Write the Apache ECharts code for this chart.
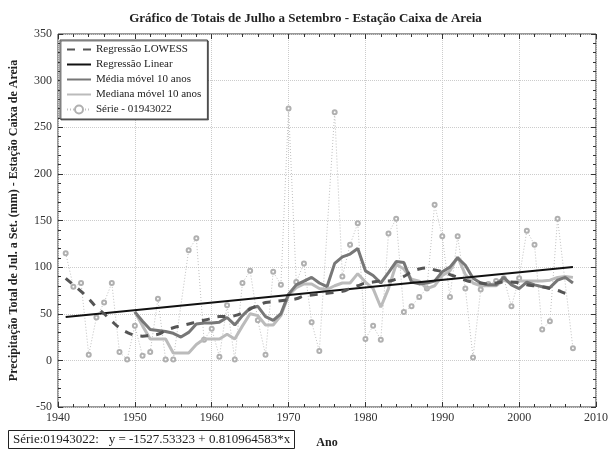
<!DOCTYPE html>
<html>
<head>
<meta charset="utf-8">
<script src="https://cdn.jsdelivr.net/npm/echarts@6/dist/echarts.min.js"></script>
<style>
  html, body { margin: 0; padding: 0; background: #fff; }
  #chart { width: 611px; height: 454px; }
</style>
</head>
<body>
<div id="chart"></div>
<script>
const years = [1941, 1942, 1943, 1944, 1945, 1946, 1947, 1948, 1949, 1950,
  1951, 1952, 1953, 1954, 1955, 1956, 1957, 1958, 1959, 1960,
  1961, 1962, 1963, 1964, 1965, 1966, 1967, 1968, 1969, 1970,
  1971, 1972, 1973, 1974, 1975, 1976, 1977, 1978, 1979, 1980,
  1981, 1982, 1983, 1984, 1985, 1986, 1987, 1988, 1989, 1990,
  1991, 1992, 1993, 1994, 1995, 1996, 1997, 1998, 1999, 2000,
  2001, 2002, 2003, 2004, 2005, 2006, 2007]

// Série - 01943022 (totais jul-set, mm)
const serie = [115, 79, 83, 6, 46, 62, 83, 9, 1, 37,
  5, 9, 66, 1, 1, null, 118, 131, 22, 34,
  4, 59, 1, 83, 96, 43, 6, 95, 81, 270,
  84, 104, 41, 10, null, 266, 90, 124, 147, 23,
  37, 22, 136, 152, 52, 58, 68, 77, 167, 133,
  68, 133, 77, 3, 76, 82, 85, 88, 58, 88,
  139, 124, 33, 42, 152, null, 13]

const lowess = [88, 81, 74, 66, 57, 50, 42, 35, 30, 27,
  26, 27, 28, 32, 35, 37, 39, 41, 43, 45,
  47, 47, 48, 51, 55, 59, 62, 63, 64, 65,
  66, 69, 70, 71, 72, 73, 74, 77, 80, 83,
  84, 85, 85, 87, 90, 95, 98, 99, 97, 95,
  92, 89, 86, 84, 83, 82, 83, 84, 84, 83,
  81, 80, 79, 77, 75, 72, 70]

const mediaMovel = [null, null, null, null, null, null, null, null, null, 52,
  42, 33, 32, 31, 29, 25, 30, 39, 40, 40,
  41, 46, 38, 48, 56, 58, 47, 43, 50, 71,
  81, 85, 89, 83, 79, 104, 111, 114, 120, 96,
  91, 83, 94, 106, 105, 84, 82, 83, 85, 95,
  100, 110, 102, 88, 83, 81, 81, 89, 81, 77,
  84, 81, 79, 78, 86, 89, 83]

const medianaMovel = [null, null, null, null, null, null, null, null, null, 52,
  37, 23, 23, 23, 8, 8, 8, 17, 23, 23,
  23, 28, 23, 37, 50, 48, 38, 38, 48, 70,
  78, 82, 82, 77, 76, 80, 83, 83, 93, 84,
  77, 57, 77, 103, 98, 87, 85, 77, 80, 91,
  96, 111, 92, 83, 80, 80, 80, 86, 83, 85,
  85, 85, 85, 86, 89, 90, 89]

// regressão linear: y = -1527.53323 + 0.810964583*x
const linearYears = [1941, 2007]
const linearVals = [46.6, 100.1]

const xTicks = [1940, 2010, 10]
const yTicks = [-50, 350, 50]

const pair = (xs, ys) => xs.map((x, i) => [x, ys[i]])

const chart = echarts.init(document.getElementById('chart'))
const serif = 'Liberation Serif'

const xBase = {
  type: 'value', min: xTicks[0], max: xTicks[1], interval: xTicks[2],
  axisLine: { show: false, onZero: false },
  axisTick: { inside: true, length: 5, lineStyle: { color: '#333' } },
  minorTick: { show: true, splitNumber: 5, length: 3, lineStyle: { color: '#333' } },
}
const yBase = {
  type: 'value', min: yTicks[0], max: yTicks[1], interval: yTicks[2],
  axisLine: { show: false, onZero: false },
  axisTick: { inside: true, length: 5, lineStyle: { color: '#333' } },
  minorTick: { show: true, splitNumber: 5, length: 3, lineStyle: { color: '#333' } },
}

const noSym = { opacity: 0 }

const option = {
  animation: false,
  backgroundColor: '#fff',
  title: [
    {
      text: 'Gráfico de Totais de Julho a Setembro - Estação Caixa de Areia',
      left: 'center', top: 7,
      textStyle: { fontFamily: serif, fontSize: 13, fontWeight: 'bold', color: '#222' }
    },
    {
      text: 'Série:01943022:   y = -1527.53323 + 0.810964583*x',
      left: 8, top: 430,
      borderColor: '#222', borderWidth: 1, padding: [3, 5],
      textStyle: { fontFamily: serif, fontSize: 13, fontWeight: 'normal', color: '#222' }
    }
  ],
  legend: {
    orient: 'vertical', left: 60, top: 40,
    backgroundColor: '#fff', borderColor: '#444', borderWidth: 1,
    shadowColor: 'rgba(0,0,0,0.5)', shadowOffsetX: 1, shadowOffsetY: 1,
    padding: [4, 6], itemGap: 4, itemWidth: 24, itemHeight: 10,
    textStyle: { fontFamily: serif, fontSize: 11, color: '#222' },
    data: [
      { name: 'Regressão LOWESS', itemStyle: noSym },
      { name: 'Regressão Linear', itemStyle: noSym },
      { name: 'Média móvel 10 anos', itemStyle: noSym },
      { name: 'Mediana móvel 10 anos', itemStyle: noSym },
      { name: 'Série - 01943022' }
    ]
  },
  grid: { left: 56, right: 11, top: 34, bottom: 45, show: true, borderColor: '#333', borderWidth: 1 },
  xAxis: [
    Object.assign({}, xBase, {
      name: 'Ano', nameLocation: 'middle', nameGap: 30,
      nameTextStyle: { fontFamily: serif, fontSize: 12, fontWeight: 'bold', color: '#222' },
      axisLabel: { fontFamily: serif, fontSize: 12, color: '#333', margin: 5, formatter: v => String(v) },
      splitLine: { lineStyle: { color: '#ccc', type: 'dotted' } }
    }),
    Object.assign({}, xBase, { position: 'top', axisLabel: { show: false }, splitLine: { show: false } })
  ],
  yAxis: [
    Object.assign({}, yBase, {
      name: 'Precipitação Total de Jul. a Set. (mm) - Estação Caixa de Areia',
      nameLocation: 'middle', nameGap: 38,
      nameTextStyle: { fontFamily: serif, fontSize: 12, fontWeight: 'bold', color: '#222' },
      axisLabel: { fontFamily: serif, fontSize: 12, color: '#333', margin: 6 },
      splitLine: { lineStyle: { color: '#ccc', type: 'dotted' } }
    }),
    Object.assign({}, yBase, { position: 'right', axisLabel: { show: false }, splitLine: { show: false } })
  ],
  series: [
    {
      name: 'Série - 01943022', type: 'line', data: pair(years, serie), connectNulls: true,
      symbol: 'emptyCircle', symbolSize: 4, z: 1,
      itemStyle: { color: '#b0b0b0', borderWidth: 1 },
      lineStyle: { color: '#c0c0c0', width: 1, type: [1, 2] }
    },
    {
      name: 'Mediana móvel 10 anos', type: 'line', data: pair(years, medianaMovel), symbol: 'none', z: 2,
      itemStyle: { color: '#bbb' }, lineStyle: { color: '#bbb', width: 3 }
    },
    {
      name: 'Média móvel 10 anos', type: 'line', data: pair(years, mediaMovel), symbol: 'none', z: 3,
      itemStyle: { color: '#777' }, lineStyle: { color: '#777', width: 3 }
    },
    {
      name: 'Regressão Linear', type: 'line', data: pair(linearYears, linearVals), symbol: 'none', z: 4,
      itemStyle: { color: '#111' }, lineStyle: { color: '#111', width: 2 }
    },
    {
      name: 'Regressão LOWESS', type: 'line', data: pair(years, lowess), symbol: 'none', smooth: true, z: 5,
      itemStyle: { color: '#555' }, lineStyle: { color: '#555', width: 3, type: [8, 8] }
    }
  ]
}

chart.setOption(option)
</script>
</body>
</html>
